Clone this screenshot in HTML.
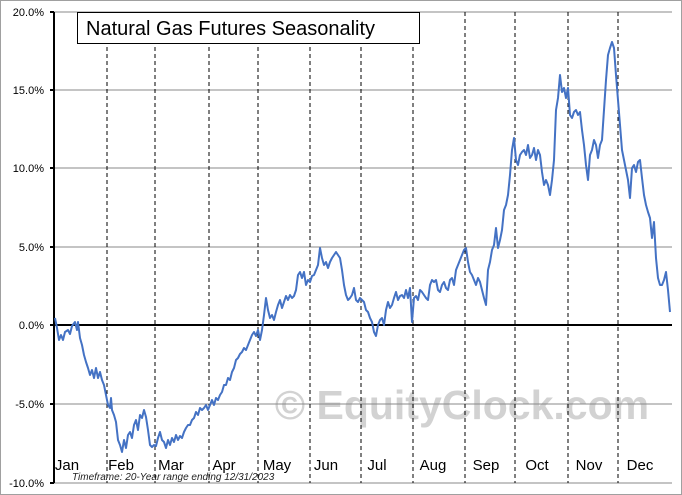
<!DOCTYPE html>
<html><head><meta charset="utf-8"><style>
html,body{margin:0;padding:0;background:#fff}
svg{display:block;font-family:"Liberation Sans",sans-serif}
</style></head><body>
<svg width="682" height="495" viewBox="0 0 682 495">
<rect x="0.5" y="0.5" width="681" height="494" fill="#fff" stroke="#a0a0a0"/>
<text x="462" y="419" font-size="41" font-weight="bold" fill="#d2d2d2" text-anchor="middle">© EquityClock.com</text>
<g stroke="#888" stroke-width="1">
<line x1="54" y1="12" x2="672" y2="12"/><line x1="54" y1="90" x2="672" y2="90"/>
<line x1="54" y1="168" x2="672" y2="168"/><line x1="54" y1="247" x2="672" y2="247"/>
<line x1="54" y1="404" x2="672" y2="404"/><line x1="54" y1="483" x2="672" y2="483"/>
</g>
<g stroke="#000" stroke-width="1" stroke-dasharray="4,3">
<line x1="107" y1="12" x2="107" y2="483"/><line x1="155" y1="12" x2="155" y2="483"/>
<line x1="209" y1="12" x2="209" y2="483"/><line x1="258" y1="12" x2="258" y2="483"/>
<line x1="310" y1="12" x2="310" y2="483"/><line x1="361" y1="12" x2="361" y2="483"/>
<line x1="413" y1="12" x2="413" y2="483"/><line x1="465" y1="12" x2="465" y2="483"/>
<line x1="515" y1="12" x2="515" y2="483"/><line x1="568" y1="12" x2="568" y2="483"/>
<line x1="618" y1="12" x2="618" y2="483"/>
</g>
<line x1="54" y1="325" x2="672" y2="325" stroke="#000" stroke-width="2"/>
<line x1="54" y1="12" x2="54" y2="483" stroke="#000" stroke-width="2"/>
<g stroke="#000" stroke-width="2"><line x1="50" y1="12" x2="54" y2="12"/><line x1="50" y1="90" x2="54" y2="90"/><line x1="50" y1="168" x2="54" y2="168"/><line x1="50" y1="247" x2="54" y2="247"/><line x1="50" y1="325" x2="54" y2="325"/><line x1="50" y1="404" x2="54" y2="404"/><line x1="50" y1="483" x2="54" y2="483"/></g>
<g font-size="11" text-anchor="end" fill="#000">
<text x="44" y="16">20.0%</text><text x="44" y="94">15.0%</text><text x="44" y="172">10.0%</text>
<text x="44" y="251">5.0%</text><text x="44" y="329">0.0%</text><text x="44" y="408">-5.0%</text><text x="44" y="487">-10.0%</text>
</g>
<g font-size="15" fill="#000" text-anchor="middle">
<text x="67" y="470">Jan</text><text x="121" y="470">Feb</text><text x="171" y="470">Mar</text><text x="224" y="470">Apr</text>
<text x="277" y="470">May</text><text x="326" y="470">Jun</text><text x="377" y="470">Jul</text><text x="433" y="470">Aug</text>
<text x="486" y="470">Sep</text><text x="537" y="470">Oct</text><text x="589" y="470">Nov</text><text x="640" y="470">Dec</text>
</g>
<text x="72" y="480" font-size="10" font-style="italic" fill="#222">Timeframe: 20-Year range ending 12/31/2023</text>
<rect x="77.5" y="12.5" width="342" height="31" fill="#fff" stroke="#000"/>
<text x="86" y="35" font-size="20" fill="#000">Natural Gas Futures Seasonality</text>
<polyline fill="none" stroke="#4472c4" stroke-width="2" stroke-linejoin="round" points="55,318 57,328 59,340 61,335 63,340 65,332 68,330 70,334 72,326 75,322 77,330 78,322 80,338 82,345 84,355 86,362 88,368 90,375 92,370 94,378 96,368 98,378 100,372 102,380 104,385 106,395 108,405 110,408 111,398 112,410 114,415 116,422 118,440 120,445 122,452 124,440 126,448 128,435 130,432 132,438 134,425 136,420 138,430 140,415 142,418 144,410 146,417 148,430 150,445 152,447 154,445 156,446 158,438 160,432 162,440 164,442 166,448 168,440 170,445 172,438 174,442 176,435 178,440 180,436 182,438 184,432 186,428 188,425 190,425 192,420 194,418 196,412 198,415 200,408 202,410 204,408 206,405 208,410 210,405 212,400 214,405 216,398 218,400 220,395 222,392 224,385 226,385 228,378 230,380 232,372 234,368 236,360 238,358 240,354 242,352 244,348 246,350 248,345 250,340 252,335 254,332 256,336 258,330 260,340 262,330 264,315 266,298 268,310 270,318 272,315 274,320 276,312 278,305 280,300 282,308 284,302 286,296 288,300 290,295 292,298 294,296 296,290 298,275 300,272 302,278 304,272 306,285 308,280 310,282 312,276 314,275 316,270 318,265 320,248 322,258 324,265 326,262 328,268 330,262 332,258 334,255 336,252 338,255 340,258 342,270 344,285 346,295 348,300 350,298 352,295 354,288 356,300 358,302 360,298 362,300 364,302 366,310 368,312 370,318 372,322 374,332 376,336 378,325 380,320 382,318 384,325 386,310 388,302 390,308 392,305 394,298 396,292 398,300 400,296 402,295 404,298 406,290 408,298 410,288 412,322 414,298 416,296 418,300 420,290 422,292 424,295 426,298 428,300 430,285 432,280 434,282 436,280 438,290 440,292 442,285 444,282 446,288 448,290 450,280 452,278 454,285 456,270 458,265 460,260 462,255 464,250 466,248 468,262 470,272 472,275 474,280 476,285 478,278 480,282 482,290 484,298 486,305 488,270 490,262 492,250 494,245 496,228 498,248 500,240 502,230 504,210 506,205 508,195 510,175 512,150 514,138 516,160 518,165 520,155 522,152 524,150 526,155 528,145 530,158 532,155 534,148 536,160 538,150 540,155 542,172 544,185 546,180 548,185 550,195 552,180 554,160 556,110 558,98 560,75 562,92 564,88 566,98 568,88 570,115 572,118 574,112 576,110 578,115 580,112 582,130 584,145 586,165 588,180 590,155 592,150 594,140 596,145 598,158 600,145 602,140 604,110 606,80 608,55 610,48 612,42 614,48 616,75 618,100 620,125 622,150 624,160 626,170 628,180 630,198 632,168 634,165 636,172 638,162 640,160 642,178 644,195 646,205 648,212 650,218 652,238 654,222 656,258 658,278 660,285 662,285 664,280 666,272 668,290 670,312"/>
</svg>
</body></html>
